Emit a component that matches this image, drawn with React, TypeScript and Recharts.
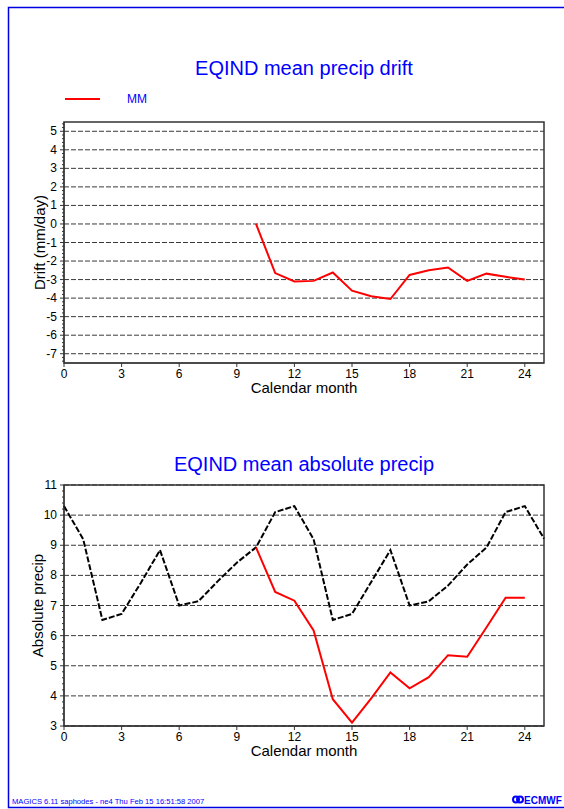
import { LineChart, Line, XAxis, YAxis, CartesianGrid, ReferenceArea, Legend } from "recharts";

const months = [0, 1, 2, 3, 4, 5, 6, 7, 8, 9, 10, 11, 12, 13, 14, 15, 16, 17, 18, 19, 20, 21, 22, 23, 24, 25];

// drift of MM run (mm/day), starts at month 10
const driftMM = [
  null, null, null, null, null, null, null, null, null, null,
  0, -2.65, -3.1, -3.07, -2.62, -3.6, -3.9, -4.05, -2.75, -2.5, -2.35, -3.07, -2.68, -2.85, -3.0, null,
];

// absolute precip: climatology (black dashed) and MM (red)
const absClim = [
  10.3, 9.2, 6.52, 6.72, 7.75, 8.84, 7.0, 7.14, 7.8, 8.42, 8.93, 10.1,
  10.3, 9.2, 6.52, 6.72, 7.78, 8.84, 7.0, 7.14, 7.66, 8.36, 8.92, 10.1, 10.3, 9.22,
];
const absMM = [
  null, null, null, null, null, null, null, null, null, null,
  8.93, 7.45, 7.16, 6.17, 3.89, 3.11, 3.92, 4.78, 4.25, 4.62, 5.35, 5.3, 6.27, 7.26, 7.26, null,
];

const xTicks = [0, 3, 6, 9, 12, 15, 18, 21, 24];
const driftTicks = [-7, -6, -5, -4, -3, -2, -1, 0, 1, 2, 3, 4, 5];
const absTicks = [3, 4, 5, 6, 7, 8, 9, 10, 11];

// minor ticks every 0.2
const minor = (from: number, to: number) => {
  const out: number[] = [];
  for (let v = Math.round(from * 5); v <= Math.round(to * 5); v++) out.push(v / 5);
  return out;
};
const driftMinor = minor(-7.4, 5.4);
const absMinor = minor(3, 11);

const topData = months.map((m, i) => ({ month: m, mm: driftMM[i] }));
const bottomData = months.map((m, i) => ({ month: m, clim: absClim[i], mm: absMM[i] }));

const AXIS = "#333";
const GRID = "#3a3a3a";
const BLUE = "#0000ff";
const FONT = "'Liberation Sans', Arial, Helvetica, sans-serif";

function YTick({ x, y, payload }: any) {
  const v = payload.value;
  const major = Math.abs(v - Math.round(v)) < 1e-6;
  const ax = x + 7; // tickSize 4 + tickMargin 3
  return (
    <g>
      <line x1={ax - (major ? 4 : 2)} x2={ax} y1={y} y2={y} stroke={AXIS} />
      {major && (
        <text x={x} y={y} dy={4} textAnchor="end" fontSize={12} fill="#000">
          {Math.round(v)}
        </text>
      )}
    </g>
  );
}

function LegendBox() {
  return (
    <div style={{ display: "flex", alignItems: "center", height: 14, fontFamily: FONT }}>
      <svg width={37} height={14}>
        <line x1={1} x2={36} y1={7} y2={7} stroke="#ff0000" strokeWidth={2} />
      </svg>
      <span style={{ marginLeft: 26, color: BLUE, fontSize: 12 }}>MM</span>
    </div>
  );
}

export default function App() {
  return (
    <div
      style={{
        position: "absolute",
        left: 0,
        top: 0,
        width: 564,
        height: 809,
        background: "#fff",
        fontFamily: FONT,
        overflow: "hidden",
      }}
    >
      <div style={{ position: "absolute", left: 0, top: 0 }}>
        <LineChart width={564} height={400} data={topData} margin={{ top: 122, right: 20, bottom: 7, left: 24 }}>
          <CartesianGrid vertical={false} horizontalValues={driftTicks} stroke={GRID} strokeDasharray="5 2" />
          <XAxis
            dataKey="month"
            type="number"
            domain={[0, 25]}
            ticks={xTicks}
            interval={0}
            height={30}
            tickSize={4}
            tickMargin={2}
            stroke={AXIS}
            tick={{ fill: "#000", fontSize: 12 }}
            label={{ value: "Calendar month", position: "insideBottom", offset: 0, fill: "#000", fontSize: 15 }}
          />
          <YAxis
            type="number"
            domain={[-7.5, 5.5]}
            ticks={driftMinor}
            interval={0}
            width={40}
            tickSize={4}
            tickMargin={3}
            tickLine={false}
            stroke={AXIS}
            tick={<YTick />}
            label={{
              value: "Drift (mm/day)",
              angle: -90,
              position: "insideLeft",
              offset: 16,
              fill: "#000",
              fontSize: 15,
              style: { textAnchor: "middle" },
            }}
          />
          <ReferenceArea x1={0} x2={25} y1={-7.5} y2={5.5} fill="none" stroke={AXIS} strokeWidth={1.5} />
          <Legend
            layout="horizontal"
            verticalAlign="middle"
            align="center"
            wrapperStyle={{ top: 92, left: 64, width: 140, height: 14 }}
            content={<LegendBox />}
          />
          <Line
            dataKey="mm"
            name="MM"
            type="linear"
            stroke="#ff0000"
            strokeWidth={2}
            dot={false}
            isAnimationActive={false}
          />
        </LineChart>
      </div>

      <div style={{ position: "absolute", left: 0, top: 400 }}>
        <LineChart width={564} height={409} data={bottomData} margin={{ top: 85, right: 20, bottom: 53, left: 24 }}>
          <CartesianGrid vertical={false} horizontalValues={absTicks} stroke={GRID} strokeDasharray="5 2" />
          <XAxis
            dataKey="month"
            type="number"
            domain={[0, 25]}
            ticks={xTicks}
            interval={0}
            height={30}
            tickSize={4}
            tickMargin={2}
            stroke={AXIS}
            tick={{ fill: "#000", fontSize: 12 }}
            label={{ value: "Calendar month", position: "insideBottom", offset: 0, fill: "#000", fontSize: 15 }}
          />
          <YAxis
            type="number"
            domain={[3, 11]}
            ticks={absMinor}
            interval={0}
            width={40}
            tickSize={4}
            tickMargin={3}
            tickLine={false}
            stroke={AXIS}
            tick={<YTick />}
            label={{
              value: "Absolute precip",
              angle: -90,
              position: "insideLeft",
              offset: 14,
              fill: "#000",
              fontSize: 15,
              style: { textAnchor: "middle" },
            }}
          />
          <ReferenceArea x1={0} x2={25} y1={3} y2={11} fill="none" stroke={AXIS} strokeWidth={1.5} />
          <Line
            dataKey="clim"
            type="linear"
            stroke="#000"
            strokeWidth={2}
            strokeDasharray="6 2"
            dot={false}
            isAnimationActive={false}
          />
          <Line
            dataKey="mm"
            type="linear"
            stroke="#ff0000"
            strokeWidth={2}
            dot={false}
            isAnimationActive={false}
          />
        </LineChart>
      </div>

      <svg
        width={564}
        height={809}
        style={{ position: "absolute", left: 0, top: 0, pointerEvents: "none" }}
      >
        <path d="M564 7.5 H8.5 V807.5 H564" fill="none" stroke="#0000e0" strokeWidth={1.5} />
        <text x={304} y={75} textAnchor="middle" fontSize={20} fill={BLUE}>
          EQIND mean precip drift
        </text>
        <text x={304} y={470.5} textAnchor="middle" fontSize={20} fill={BLUE}>
          EQIND mean absolute precip
        </text>
        <text x={12} y={803.5} fontSize={7.6} fill={BLUE}>
          MAGICS 6.11 saphodes - ne4 Thu Feb 15 16:51:58 2007
        </text>
        <ellipse cx={516} cy={799.5} rx={3} ry={3} fill="none" stroke={BLUE} strokeWidth={2} />
        <ellipse cx={520} cy={799.5} rx={3} ry={3} fill="none" stroke={BLUE} strokeWidth={2} />
        <text x={524} y={803.5} fontSize={10} fontWeight="bold" fill={BLUE}>
          ECMWF
        </text>
      </svg>
    </div>
  );
}
